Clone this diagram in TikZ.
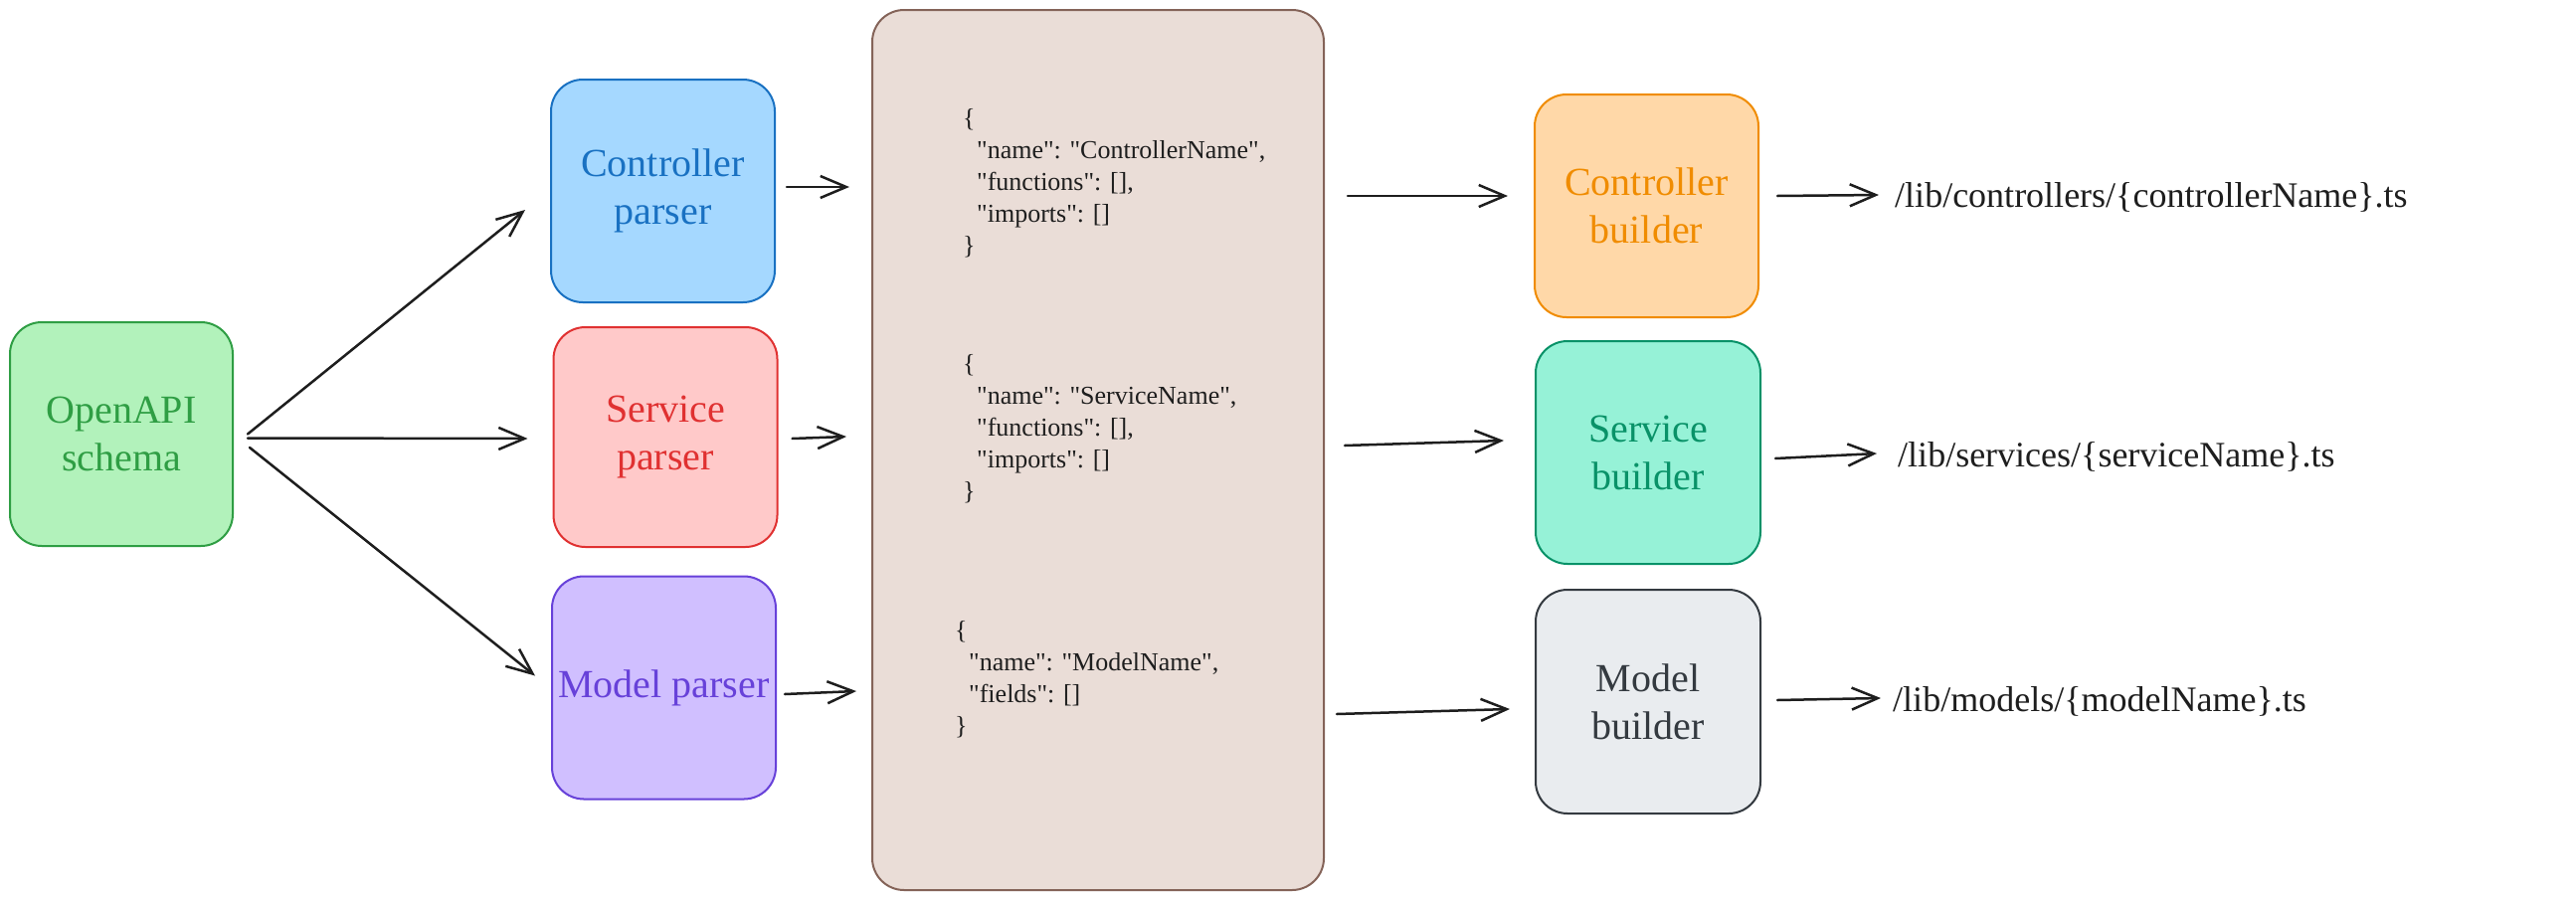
\documentclass[tikz,border=0pt]{standalone}
\usepackage{fontspec}
\setmainfont{Liberation Serif}
% plain family for code text, so that " stays a straight quote
\newfontfamily\codefont{Liberation Serif}[Ligatures=TeXOff]
\usetikzlibrary{arrows.meta,calc}

\definecolor{ink}{HTML}{1E1E1E}
\definecolor{greenfill}{HTML}{B2F2BB}\definecolor{greenline}{HTML}{2F9E44}
\definecolor{bluefill}{HTML}{A5D8FF}\definecolor{blueline}{HTML}{1971C2}
\definecolor{redfill}{HTML}{FFC9C9}\definecolor{redline}{HTML}{E03131}
\definecolor{violetfill}{HTML}{D0BFFF}\definecolor{violetline}{HTML}{6741D9}
\definecolor{brownfill}{HTML}{EADDD7}\definecolor{brownline}{HTML}{846358}
\definecolor{orangefill}{HTML}{FFD8A8}\definecolor{orangeline}{HTML}{F08C00}
\definecolor{tealfill}{HTML}{96F2D7}\definecolor{tealline}{HTML}{099268}
\definecolor{greyfill}{HTML}{E9ECEF}\definecolor{greyline}{HTML}{343A40}

\begin{document}
\begin{tikzpicture}[x=1pt,y=-1pt,
  box/.style={draw, line width=2pt, rounded corners=32pt, minimum width=225pt,
    minimum height=224pt, align=center, inner sep=0pt,
    font=\fontsize{40}{48}\selectfont},
  arr/.style={-{Straight Barb[length=26pt,width=22pt,line width=2.5pt]},
    line width=2.5pt, line cap=round, draw=ink},
  json/.style={align=left, anchor=west, inner sep=0pt, text=ink,
    font=\codefont\fontsize{26}{32}\selectfont},
  outfile/.style={anchor=west, inner sep=0pt, text=ink,
    font=\fontsize{36}{44}\selectfont}]
\useasboundingbox[fill=white] (0,0) rectangle (2590,905);

% input schema
\node[box, fill=greenfill, draw=greenline, text=greenline, minimum width=224pt,
  minimum height=225pt] (oa) at (122,436.5) {OpenAPI\\schema};

% parsers
\node[box, fill=bluefill, draw=blueline, text=blueline] (cp) at (666.5,192) {Controller\\parser};
\node[box, fill=redfill, draw=redline, text=redline, minimum height=221pt] (sp) at (669,439.5) {Service\\parser};
\node[box, fill=violetfill, draw=violetline, text=violetline] (mp) at (667.5,691.5) {Model parser};

% intermediate representation
\node[draw=brownline, fill=brownfill, line width=2pt, rounded corners=32pt,
  minimum width=454pt, minimum height=885pt, inner sep=0pt] (ir) at (1104,452.5) {};
\node[json] (j1) at (968,184) {\{\\\hspace*{14pt}"name": "ControllerName",\\\hspace*{14pt}"functions": [],\\\hspace*{14pt}"imports": []\\\}};
\node[json] (j2) at (968,431) {\{\\\hspace*{14pt}"name": "ServiceName",\\\hspace*{14pt}"functions": [],\\\hspace*{14pt}"imports": []\\\}};
\node[json] (j3) at (960,683) {\{\\\hspace*{14pt}"name": "ModelName",\\\hspace*{14pt}"fields": []\\\}};

% builders
\node[box, fill=orangefill, draw=orangeline, text=orangeline] (cb) at (1655.5,207) {Controller\\builder};
\node[box, fill=tealfill, draw=tealline, text=tealline, minimum width=226pt] (sb) at (1657,455) {Service\\builder};
\node[box, fill=greyfill, draw=greyline, text=greyline, minimum width=226pt, minimum height=225pt] (mb) at (1657,705.5) {Model\\builder};

% generated files
\node[outfile] (o1) at (1905,198) {/lib/controllers/\{controllerName\}.ts};
\node[outfile] (o2) at (1908,459) {/lib/services/\{serviceName\}.ts};
\node[outfile] (o3) at (1903,705) {/lib/models/\{modelName\}.ts};

% schema to parsers
\draw[arr] ($(oa.east)+(14,0)$) -- ($(cp.west)+(-25,19)$);
\draw[arr] ($(oa.east)+(14,4)$) -- ($(sp.west)+(-25,1.5)$);
\draw[arr] ($(oa.east)+(16,13.5)$) -- ($(mp.west)+(-16,-12)$);

% parsers to representation
\draw[arr] ($(cp.east)+(11,-4)$) -- ($(ir.west |- cp.east)+(-22,-4)$);
\draw[arr] ($(sp.east)+(14,1.5)$) -- ($(ir.west |- sp.east)+(-25,-0.5)$);
\draw[arr] ($(mp.east)+(8,6.5)$) -- ($(ir.west |- mp.east)+(-15,3.5)$);

% representation to builders
\draw[arr] ($(ir.east |- cb.west)+(23,-10)$) -- ($(cb.west)+(-26,-10)$);
\draw[arr] ($(ir.east |- sb.west)+(20,-7)$) -- ($(sb.west)+(-31,-12)$);
\draw[arr] ($(ir.east |- mb.west)+(12,12.5)$) -- ($(mb.west)+(-25,7.5)$);

% builders to files
\draw[arr] ($(cb.east)+(18,-10)$) -- ($(o1.west)+(-16,-2)$);
\draw[arr] ($(sb.east)+(14,6)$) -- ($(o2.west)+(-21,-3)$);
\draw[arr] ($(mb.east)+(16,-1.5)$) -- ($(o3.west)+(-12,-3)$);
\end{tikzpicture}
\end{document}
